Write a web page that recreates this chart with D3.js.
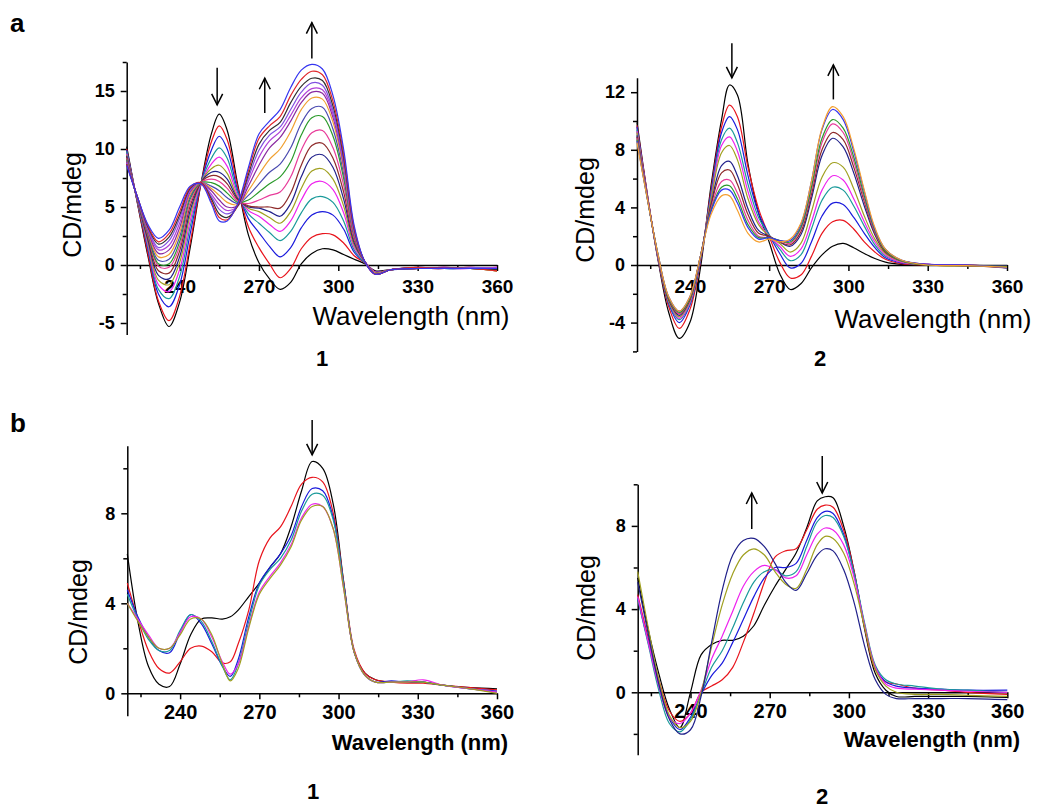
<!DOCTYPE html>
<html>
<head>
<meta charset="utf-8">
<script src="https://cdnjs.cloudflare.com/ajax/libs/d3/7.8.5/d3.min.js"></script>
<style>
  body { margin: 0; background: #fff; }
  svg text { font-family: "Liberation Sans", Arial, Helvetica, sans-serif; fill: #000; }
</style>
</head>
<body>
<svg id="fig" width="1037" height="812"></svg>
<script>
// ---------- shared axis values ----------
const xMajorTicks = [240, 270, 300, 330, 360];
const xMinorTicks = [225, 255, 285, 315, 345];
const xTitle = "Wavelength (nm)";
const yTitle = "CD/mdeg";

// ---------- panel a / compound 1 : CD titration (mdeg) ----------
const wlA1 = [220, 224, 228, 232, 236, 240, 244, 248, 252, 255, 258, 262, 266, 270, 274, 278, 282, 286, 290, 294, 298, 302, 306, 310, 314, 320, 330, 340, 350, 360];
const cdA1 = [
  [10.2, 5.4, 0.8, -3.3, -5.3, -3.2, 1.5, 6.9, 11.3, 13.0, 11.6, 6.9, 2.6, 0.2, -1.2, -2.1, -1.5, 0.1, 1.0, 1.4, 1.3, 0.9, 0.5, 0.1, -0.5, -0.4, -0.3, -0.3, -0.3, -0.5],
  [10.0, 5.4, 1.0, -3.1, -4.8, -2.7, 1.9, 6.9, 10.6, 12.0, 10.8, 6.7, 3.3, 1.5, 0.1, -1.1, -0.3, 1.4, 2.4, 2.7, 2.6, 1.9, 0.8, 0.2, -0.6, -0.4, -0.3, -0.3, -0.2, -0.4],
  [9.9, 5.5, 1.4, -2.5, -3.6, -1.7, 2.7, 7.0, 9.9, 11.1, 10.0, 6.4, 4.0, 2.8, 1.6, 0.7, 1.5, 3.2, 4.3, 4.6, 4.3, 3.1, 1.1, 0.2, -0.6, -0.4, -0.3, -0.2, -0.3, -0.3],
  [9.8, 5.5, 1.6, -2.1, -2.9, -1.0, 3.3, 7.0, 9.2, 10.1, 9.2, 6.2, 4.4, 3.6, 2.8, 2.1, 2.9, 4.5, 5.7, 5.9, 5.4, 3.8, 1.3, 0.2, -0.6, -0.4, -0.2, -0.3, -0.3, -0.4],
  [9.6, 5.6, 1.8, -1.7, -2.3, -0.4, 3.8, 7.0, 8.7, 9.3, 8.5, 6.0, 4.7, 4.2, 3.5, 2.9, 3.8, 5.6, 7.0, 7.2, 6.5, 4.5, 1.5, 0.3, -0.6, -0.4, -0.3, -0.3, -0.3, -0.2],
  [9.5, 5.6, 2.0, -1.3, -1.7, 0.2, 4.3, 7.1, 8.3, 8.6, 7.9, 5.8, 4.9, 4.6, 4.1, 3.6, 4.6, 6.6, 8.1, 8.3, 7.4, 5.1, 1.7, 0.3, -0.7, -0.4, -0.3, -0.2, -0.3, -0.5],
  [9.4, 5.6, 2.2, -0.9, -1.2, 0.7, 4.7, 7.1, 8.0, 8.0, 7.4, 5.7, 5.0, 4.9, 4.6, 4.2, 5.3, 7.6, 9.3, 9.5, 8.4, 5.7, 1.9, 0.3, -0.7, -0.4, -0.2, -0.3, -0.3, -0.3],
  [9.3, 5.7, 2.4, -0.5, -0.7, 1.2, 5.1, 7.1, 7.7, 7.6, 7.0, 5.6, 5.1, 5.0, 5.0, 4.9, 6.2, 8.6, 10.3, 10.5, 9.2, 6.3, 2.1, 0.3, -0.7, -0.4, -0.3, -0.3, -0.2, -0.4],
  [9.2, 5.7, 2.6, -0.1, -0.2, 1.6, 5.4, 7.1, 7.4, 7.2, 6.6, 5.5, 5.3, 5.6, 6.0, 6.3, 7.6, 9.9, 11.4, 11.6, 10.1, 6.9, 2.3, 0.3, -0.7, -0.4, -0.3, -0.2, -0.3, -0.2],
  [9.1, 5.7, 2.7, 0.1, 0.1, 2.0, 5.7, 7.1, 7.1, 6.8, 6.2, 5.4, 5.6, 6.3, 7.0, 7.6, 8.9, 11.2, 12.7, 12.8, 11.1, 7.5, 2.5, 0.3, -0.7, -0.4, -0.3, -0.3, -0.3, -0.4],
  [9.0, 5.8, 2.8, 0.4, 0.5, 2.4, 5.9, 7.1, 6.8, 6.4, 5.8, 5.3, 6.0, 7.0, 8.0, 8.7, 10.1, 12.2, 13.5, 13.6, 11.7, 7.9, 2.6, 0.3, -0.7, -0.4, -0.2, -0.3, -0.3, -0.3],
  [8.9, 5.8, 2.9, 0.7, 0.9, 2.8, 6.1, 7.1, 6.6, 6.0, 5.4, 5.2, 6.4, 7.8, 9.1, 10.0, 11.5, 13.4, 14.4, 14.3, 12.3, 8.3, 2.7, 0.3, -0.7, -0.4, -0.3, -0.3, -0.3, -0.5],
  [8.9, 5.8, 3.0, 1.0, 1.3, 3.2, 6.3, 7.1, 6.4, 5.6, 5.0, 5.1, 6.8, 8.6, 10.1, 11.0, 12.4, 14.0, 14.9, 14.8, 12.7, 8.6, 2.8, 0.3, -0.8, -0.4, -0.3, -0.2, -0.3, -0.4],
  [8.8, 5.8, 3.1, 1.3, 1.7, 3.6, 6.4, 7.1, 6.1, 5.2, 4.7, 5.1, 7.2, 9.3, 10.7, 11.5, 12.9, 14.4, 15.2, 15.1, 13.0, 8.8, 2.9, 0.3, -0.8, -0.4, -0.3, -0.3, -0.3, -0.2],
  [8.8, 5.9, 3.2, 1.5, 2.1, 4.0, 6.5, 7.1, 5.9, 4.8, 4.4, 5.1, 7.5, 9.9, 11.2, 11.9, 13.4, 14.9, 15.7, 15.5, 13.3, 9.0, 3.0, 0.3, -0.8, -0.4, -0.3, -0.3, -0.2, -0.3],
  [8.7, 5.9, 3.3, 1.8, 2.4, 4.3, 6.6, 7.1, 5.7, 4.4, 4.1, 5.1, 7.8, 10.4, 11.6, 12.3, 14.0, 15.4, 16.1, 15.9, 13.7, 9.3, 3.1, 0.3, -0.8, -0.4, -0.3, -0.3, -0.3, -0.4],
  [8.7, 5.9, 3.4, 2.0, 2.7, 4.6, 6.7, 7.1, 5.5, 4.1, 3.9, 5.2, 8.1, 10.9, 12.0, 12.8, 14.6, 16.0, 16.7, 16.4, 14.1, 9.6, 3.2, 0.3, -0.8, -0.4, -0.2, -0.3, -0.3, -0.5],
  [8.6, 5.9, 3.5, 2.3, 3.0, 5.0, 6.8, 7.0, 5.3, 3.8, 3.8, 5.3, 8.4, 11.3, 12.4, 13.4, 15.3, 16.8, 17.3, 16.9, 14.6, 10.0, 3.4, 0.3, -0.8, -0.4, -0.3, -0.3, -0.3, -0.3]
];
const colorsA1 = ["#000000", "#e8141c", "#1a1adc", "#1a9a9a", "#ee22ee", "#a0a020", "#20208a", "#8e2a2a",
                  "#e83c9a", "#2a9a2a", "#4a4ab0", "#f0a030", "#8a2aa0", "#b040d8", "#8050e0", "#303030",
                  "#e0262a", "#3535f0"];
const yTicksA1 = [-5, 0, 5, 10, 15];
const yMinorA1 = [-2.5, 2.5, 7.5, 12.5, 17.5];

// ---------- panel a / compound 2 ----------
const wlA2 = [220, 224, 228, 232, 236, 240, 244, 248, 252, 255, 258, 262, 266, 270, 274, 278, 282, 286, 290, 294, 298, 302, 306, 310, 314, 320, 330, 345, 360];
const cdA2 = [
  [9.9, 4.8, 0.3, -3.3, -5.1, -4.0, -0.2, 5.5, 10.1, 12.5, 11.8, 7.0, 3.6, 1.6, -0.6, -1.7, -1.3, -0.2, 0.7, 1.3, 1.5, 1.2, 0.8, 0.45, 0.2, 0.05, 0.0, -0.05, -0.1],
  [9.7, 4.8, 0.4, -2.9, -4.4, -3.1, 0.2, 5.2, 9.6, 11.1, 10.3, 6.8, 3.9, 2.0, 0.2, -0.9, -0.7, 0.6, 2.2, 3.0, 3.1, 2.5, 1.6, 0.9, 0.4, 0.1, 0.0, 0.0, -0.15],
  [9.6, 4.7, 0.4, -2.7, -4.0, -2.8, 0.3, 5.0, 9.2, 10.3, 9.4, 6.2, 3.6, 2.1, 0.8, -0.2, 0.1, 1.6, 3.4, 4.3, 4.2, 3.3, 2.2, 1.2, 0.5, 0.15, 0.05, -0.05, -0.1],
  [9.4, 4.7, 0.5, -2.6, -3.8, -2.7, 0.4, 4.8, 8.7, 9.5, 8.5, 5.6, 3.3, 2.1, 1.1, 0.3, 0.7, 2.5, 4.5, 5.4, 5.2, 4.1, 2.7, 1.4, 0.6, 0.2, 0.0, 0.0, -0.2],
  [9.3, 4.7, 0.5, -2.5, -3.7, -2.6, 0.5, 4.6, 8.3, 8.9, 7.9, 5.1, 3.0, 2.0, 1.3, 0.6, 1.1, 3.0, 5.2, 6.2, 5.9, 4.6, 3.0, 1.6, 0.7, 0.2, 0.05, -0.05, -0.1],
  [9.2, 4.6, 0.5, -2.5, -3.6, -2.5, 0.5, 4.5, 7.8, 8.3, 7.3, 4.6, 2.8, 2.0, 1.5, 0.9, 1.5, 3.7, 6.1, 7.1, 6.8, 5.3, 3.4, 1.8, 0.8, 0.25, 0.0, -0.05, -0.15],
  [9.0, 4.6, 0.6, -2.4, -3.5, -2.4, 0.6, 4.2, 6.9, 7.2, 6.2, 3.9, 2.4, 2.0, 1.6, 1.3, 2.1, 4.6, 7.6, 8.8, 8.2, 6.4, 4.1, 2.1, 0.9, 0.3, 0.05, 0.0, -0.1],
  [8.9, 4.6, 0.6, -2.4, -3.4, -2.4, 0.6, 4.1, 6.4, 6.6, 5.6, 3.5, 2.2, 2.0, 1.6, 1.4, 2.3, 4.9, 8.0, 9.2, 8.7, 6.8, 4.4, 2.2, 0.9, 0.3, 0.0, -0.05, -0.2],
  [8.8, 4.6, 0.6, -2.3, -3.4, -2.3, 0.6, 3.9, 5.8, 5.9, 5.0, 3.1, 2.0, 1.9, 1.7, 1.5, 2.5, 5.2, 8.5, 9.8, 9.2, 7.2, 4.6, 2.3, 1.0, 0.3, 0.05, 0.0, -0.15],
  [8.7, 4.5, 0.7, -2.3, -3.3, -2.3, 0.6, 3.8, 5.4, 5.5, 4.6, 2.8, 1.9, 1.9, 1.7, 1.6, 2.6, 5.4, 8.8, 10.1, 9.5, 7.5, 4.8, 2.4, 1.0, 0.3, 0.0, -0.05, -0.1],
  [8.6, 4.5, 0.7, -2.2, -3.2, -2.2, 0.6, 3.7, 5.2, 5.2, 4.3, 2.6, 1.8, 1.9, 1.7, 1.7, 2.8, 5.8, 9.4, 10.8, 10.1, 7.9, 5.1, 2.5, 1.1, 0.35, 0.05, 0.0, -0.2],
  [8.5, 4.5, 0.7, -2.2, -3.2, -2.2, 0.6, 3.5, 4.8, 4.8, 3.8, 2.2, 1.6, 1.8, 1.6, 1.8, 2.9, 5.8, 9.5, 11.0, 10.3, 8.1, 5.2, 2.6, 1.1, 0.35, 0.0, -0.05, -0.15]
];
const colorsA2 = ["#000000", "#e8141c", "#1a1adc", "#1a9a9a", "#ee22ee", "#a0a020", "#20208a", "#8e2a2a",
                  "#e83c9a", "#2a9a2a", "#3535f0", "#f5a030"];
const yTicksA2 = [-4, 0, 4, 8, 12];
const yMinorA2 = [-6, -2, 2, 6, 10];

// ---------- panel b / compound 1 ----------
const wlB1 = [220, 224, 228, 232, 236, 240, 244, 248, 252, 256, 259, 262, 266, 270, 274, 278, 282, 286, 290, 294, 298, 302, 306, 310, 314, 320, 326, 332, 340, 350, 360];
const cdB1 = [
  [6.2, 3.2, 1.2, 0.4, 0.3, 1.3, 2.6, 3.3, 3.35, 3.3, 3.4, 3.7, 4.3, 4.9, 5.6, 6.2, 7.4, 9.0, 10.3, 10.0, 8.4, 4.9, 1.8, 0.9, 0.6, 0.5, 0.5, 0.5, 0.35, 0.25, 0.2],
  [4.9, 3.3, 1.9, 1.1, 0.9, 1.4, 2.0, 2.1, 1.85, 1.35, 1.4, 2.2, 3.7, 5.9, 6.9, 7.4, 8.3, 9.3, 9.6, 9.4, 8.0, 4.9, 1.9, 0.9, 0.6, 0.5, 0.45, 0.45, 0.35, 0.25, 0.15],
  [4.6, 3.4, 2.5, 1.9, 1.8, 2.7, 3.5, 3.1, 2.2, 1.2, 0.75, 1.5, 3.4, 4.9, 5.6, 6.2, 7.0, 8.3, 9.1, 9.0, 7.8, 4.8, 1.8, 0.8, 0.5, 0.55, 0.5, 0.5, 0.35, 0.2, 0.1],
  [4.4, 3.3, 2.4, 1.9, 1.9, 2.8, 3.5, 3.2, 2.3, 1.2, 0.6, 1.3, 3.2, 4.8, 5.5, 6.0, 6.8, 8.1, 8.85, 8.8, 7.7, 4.8, 1.8, 0.8, 0.5, 0.5, 0.55, 0.5, 0.35, 0.2, 0.05],
  [4.0, 3.3, 2.6, 2.0, 2.0, 2.7, 3.4, 3.3, 2.5, 1.4, 0.85, 1.3, 3.0, 4.5, 5.2, 5.8, 6.6, 7.8, 8.4, 8.3, 7.3, 4.6, 1.8, 0.8, 0.5, 0.5, 0.5, 0.6, 0.35, 0.2, 0.05],
  [4.0, 3.2, 2.5, 2.0, 2.0, 2.6, 3.3, 3.3, 2.6, 1.3, 0.55, 1.1, 2.9, 4.4, 5.1, 5.7, 6.5, 7.7, 8.3, 8.3, 7.3, 4.6, 1.8, 0.8, 0.5, 0.5, 0.5, 0.5, 0.35, 0.2, 0.0]
];
const colorsB1 = ["#000000", "#e8141c", "#1a1adc", "#1a9a9a", "#ee22ee", "#a0a020"];
const yTicksB1 = [0, 4, 8];
const yMinorB1 = [2, 6, 10];

// ---------- panel b / compound 2 ----------
const wlB2 = [220, 224, 228, 232, 236, 240, 244, 248, 252, 256, 260, 264, 268, 272, 276, 280, 284, 288, 291, 294, 298, 302, 306, 310, 314, 318, 325, 335, 345, 360];
const cdB2 = [
  [5.5, 3.0, 0.9, -0.8, -1.7, 0.0, 1.8, 2.3, 2.5, 2.5, 2.7, 3.2, 4.2, 5.1, 5.9, 6.7, 7.9, 9.2, 9.4, 9.35, 8.0, 5.8, 3.0, 0.9, 0.1, -0.2, -0.2, -0.2, -0.2, -0.25],
  [4.7, 2.6, 0.6, -0.9, -1.4, -1.0, 0.0, 0.3, 0.6, 1.2, 2.4, 3.8, 5.3, 6.5, 6.8, 6.9, 7.8, 8.8, 9.0, 8.9, 7.8, 5.8, 3.1, 1.1, 0.5, 0.4, 0.2, 0.1, 0.0, -0.1],
  [4.5, 2.4, 0.3, -1.2, -1.8, -1.2, -0.1, 0.8, 1.4, 2.4, 3.5, 4.6, 5.5, 6.0, 6.0, 6.2, 7.3, 8.4, 8.7, 8.6, 7.6, 5.7, 3.2, 1.2, 0.5, 0.3, 0.2, 0.15, 0.1, 0.1],
  [4.5, 2.3, 0.1, -1.5, -1.9, -1.3, -0.1, 1.2, 2.0, 3.1, 4.3, 5.3, 5.8, 5.9, 5.6, 5.8, 7.0, 8.2, 8.5, 8.4, 7.5, 5.7, 3.3, 1.3, 0.6, 0.4, 0.3, 0.15, 0.1, 0.0],
  [4.6, 2.4, 0.3, -1.2, -1.5, -1.0, 0.1, 1.6, 2.7, 3.9, 5.1, 5.8, 6.1, 5.9, 5.5, 5.6, 6.6, 7.6, 7.9, 7.8, 7.1, 5.5, 3.2, 1.2, 0.4, 0.2, 0.15, 0.1, 0.05, 0.0],
  [5.8, 3.1, 0.6, -1.1, -1.7, -1.4, 0.0, 2.2, 4.2, 5.7, 6.6, 6.9, 6.6, 5.8, 5.2, 5.0, 5.9, 7.1, 7.5, 7.4, 6.7, 5.2, 3.1, 1.1, 0.3, 0.0, -0.1, -0.1, -0.15, -0.2],
  [5.3, 2.8, 0.4, -1.3, -2.0, -1.8, -0.2, 2.4, 4.9, 6.6, 7.3, 7.4, 7.0, 6.2, 5.3, 4.9, 5.7, 6.6, 6.9, 6.8, 5.9, 4.3, 2.2, 0.6, -0.1, -0.3, -0.3, -0.3, -0.3, -0.35]
];
const colorsB2 = ["#000000", "#e8141c", "#1a1adc", "#1a9a9a", "#ee22ee", "#a0a020", "#20208a"];
const yTicksB2 = [0, 4, 8];
const yMinorB2 = [-2, 2, 6, 10];

// trend arrows: [wavelength, tail value, head value]
const arrowsA1 = [[254.2, 17.0, 13.8], [272.2, 13.1, 16.1], [290.0, 17.8, 20.9]];
const arrowsA2 = [[255.9, 15.4, 13.0], [294.3, 11.5, 13.9]];
const arrowsB1 = [[290.0, 12.15, 10.6]];
const arrowsB2 = [[263.2, 7.85, 9.58], [289.9, 11.36, 9.58]];

// ---------- drawing ----------
const svg = d3.select("#fig");
const tickFmt = d => String(d);   // plain hyphen for negatives

const panels = [
  { wl: wlA1, cd: cdA1, colors: colorsA1, arrows: arrowsA1, yTicks: yTicksA1, yMinor: yMinorA1,
    yDomain: [-6, 17.5], left: 126.7, right: 497, bottom: 334.6, top: 62,
    xFont: 19, xPad: 9, yFont: 18, titleFont: 26, titleWeight: "normal",
    titleX: 411, titleY: 325, yTitleX: 81, yTitleY: 205, num: "1", numX: 322, numY: 366 },
  { wl: wlA2, cd: cdA2, colors: colorsA2, arrows: arrowsA2, yTicks: yTicksA2, yMinor: yMinorA2,
    yDomain: [-6, 13], left: 637, right: 1007, bottom: 351.4, top: 77.8,
    xFont: 19, xPad: 9, yFont: 18, titleFont: 26, titleWeight: "normal",
    titleX: 933, titleY: 328, yTitleX: 594, yTitleY: 210, num: "2", numX: 820, numY: 366 },
  { wl: wlB1, cd: cdB1, colors: colorsB1, arrows: arrowsB1, yTicks: yTicksB1, yMinor: yMinorB1,
    yDomain: [-1, 11], left: 127.3, right: 497, bottom: 715.8, top: 445.8,
    xFont: 20, xPad: 6, yFont: 18, titleFont: 22, titleWeight: "bold",
    titleX: 420, titleY: 750, yTitleX: 87, yTitleY: 612, num: "1", numX: 313, numY: 799 },
  { wl: wlB2, cd: cdB2, colors: colorsB2, arrows: arrowsB2, yTicks: yTicksB2, yMinor: yMinorB2,
    yDomain: [-3, 10], left: 637.7, right: 1007.3, bottom: 754.7, top: 484.3,
    xFont: 20, xPad: 6, yFont: 18, titleFont: 22, titleWeight: "bold",
    titleX: 932, titleY: 747, yTitleX: 595, yTitleY: 608, num: "2", numX: 822, numY: 804 }
];

function styleAxis(g, fontSize) {
  g.selectAll(".domain").attr("stroke", "#000").attr("stroke-width", 1.5);
  g.selectAll(".tick line").attr("stroke", "#000").attr("stroke-width", 1.5);
  g.selectAll(".tick text")
    .attr("fill", "#000")
    .style("font-size", fontSize + "px")
    .style("font-weight", "bold")
    .style("font-family", '"Liberation Sans", Arial, sans-serif');
}

panels.forEach(p => {
  const x = d3.scaleLinear().domain([220, 360]).range([p.left, p.right]);
  const y = d3.scaleLinear().domain(p.yDomain).range([p.bottom, p.top]);
  const g = svg.append("g");

  // y axis (major + minor ticks)
  const gy = g.append("g").attr("transform", `translate(${p.left},0)`)
    .call(d3.axisLeft(y).tickValues(p.yTicks).tickSize(6).tickSizeOuter(0).tickPadding(6).tickFormat(tickFmt));
  styleAxis(gy, p.yFont);
  const gym = g.append("g").attr("transform", `translate(${p.left},0)`)
    .call(d3.axisLeft(y).tickValues(p.yMinor.filter(v => v >= p.yDomain[0] && v <= p.yDomain[1])).tickSize(4).tickFormat(""));
  gym.select(".domain").remove();
  styleAxis(gym, p.yFont);

  // x axis along the zero line
  const gx = g.append("g").attr("transform", `translate(0,${y(0)})`)
    .call(d3.axisBottom(x).tickValues(xMajorTicks).tickSize(6).tickSizeOuter(0).tickPadding(p.xPad).tickFormat(tickFmt));
  styleAxis(gx, p.xFont);
  const gxm = g.append("g").attr("transform", `translate(0,${y(0)})`)
    .call(d3.axisBottom(x).tickValues(xMinorTicks).tickSize(4).tickFormat(""));
  gxm.select(".domain").remove();
  styleAxis(gxm, p.xFont);

  // spectra
  const line = d3.line()
    .x((d, i) => x(p.wl[i]))
    .y(d => y(d))
    .curve(d3.curveCatmullRom.alpha(0.5));
  g.append("g").selectAll("path").data(p.cd).join("path")
    .attr("d", line)
    .attr("fill", "none")
    .attr("stroke", (d, i) => p.colors[i])
    .attr("stroke-width", 1.2)
    .attr("stroke-linejoin", "round");

  // arrows
  p.arrows.forEach(([w, v0, v1]) => {
    const ax = x(w), y0 = y(v0), y1 = y(v1);
    const dir = y1 > y0 ? 1 : -1;
    const ag = g.append("g").attr("stroke", "#000").attr("stroke-width", 1.5).attr("fill", "none");
    ag.append("line").attr("x1", ax).attr("x2", ax).attr("y1", y0).attr("y2", y1);
    ag.append("path").attr("d", `M${ax - 5.5},${y1 - dir * 11} L${ax},${y1} L${ax + 5.5},${y1 - dir * 11}`);
  });

  // titles
  g.append("text").attr("x", p.titleX).attr("y", p.titleY)
    .attr("text-anchor", "middle").style("font-size", p.titleFont + "px").style("font-weight", p.titleWeight)
    .text(xTitle);
  g.append("text").attr("transform", `translate(${p.yTitleX},${p.yTitleY}) rotate(-90)`)
    .attr("text-anchor", "middle").style("font-size", "25px")
    .text(yTitle);
  g.append("text").attr("x", p.numX).attr("y", p.numY)
    .attr("text-anchor", "middle").style("font-size", "22px").style("font-weight", "bold")
    .text(p.num);
});

// panel letters
svg.append("text").attr("x", 10).attr("y", 32).style("font-size", "26px").style("font-weight", "bold").text("a");
svg.append("text").attr("x", 10).attr("y", 432).style("font-size", "26px").style("font-weight", "bold").text("b");
</script>
</body>
</html>
